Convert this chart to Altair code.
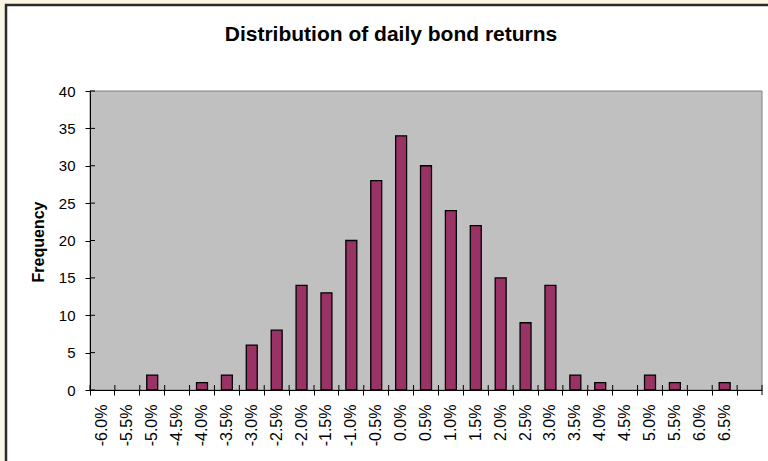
import altair as alt
import pandas as pd

categories = ["-6.0%", "-5.5%", "-5.0%", "-4.5%", "-4.0%", "-3.5%", "-3.0%", "-2.5%",
              "-2.0%", "-1.5%", "-1.0%", "-0.5%", "0.0%", "0.5%", "1.0%", "1.5%",
              "2.0%", "2.5%", "3.0%", "3.5%", "4.0%", "4.5%", "5.0%", "5.5%",
              "6.0%", "6.5%", " "]
frequency = [0, 0, 2, 0, 1, 2, 6, 8, 14, 13, 20, 28, 34, 30, 24, 22,
             15, 9, 14, 2, 1, 0, 2, 1, 0, 1, 0]
y_ticks = [0, 5, 10, 15, 20, 25, 30, 35, 40]

df = pd.DataFrame({"bin": categories, "freq": frequency})
yt = pd.DataFrame({"tick": y_ticks})
FONT = "Liberation Sans"
W, H = 672, 299

base = alt.Chart(df)
one = "datum.bin == '-6.0%'"

frame = base.mark_rect(fill="white", stroke="#2a2a2a", strokeWidth=2.5).encode(
    x=alt.value(-84), x2=alt.value(700), y=alt.value(-86), y2=alt.value(400)
).transform_filter(one)

plotbg = base.mark_rect(fill="#C0C0C0", stroke="#808080", strokeWidth=1).encode(
    x=alt.value(0), x2=alt.value(W), y=alt.value(0), y2=alt.value(H)
).transform_filter(one)

xscale = alt.Scale(paddingInner=0, paddingOuter=0)
yscale = alt.Scale(domain=[0, 40], nice=False)

xaxis = alt.Axis(title=None, labelAngle=270, labelAlign="right",
                 labelBaseline="middle", labelFont=FONT, labelFontSize=16,
                 labelColor="black", labelPadding=9, bandPosition=0,
                 tickColor="black", domainColor="black", tickSize=5,
                 labelOverlap=False, zindex=1)
yaxis = alt.Axis(title=None, values=y_ticks, labelOverlap=False,
                 grid=False, labelFont=FONT, labelFontSize=15,
                 labelColor="black", labelPadding=10, tickSize=5,
                 tickColor="black", domainColor="black", zindex=1)

bars = base.mark_bar(
    color="#993366", stroke="black", strokeWidth=1.3,
    width=alt.RelativeBandSize(0.44)
).encode(
    x=alt.X("bin:N", sort=categories, scale=xscale, axis=xaxis),
    y=alt.Y("freq:Q", scale=yscale, axis=yaxis),
    opacity=alt.condition("datum.freq > 0", alt.value(1), alt.value(0))
)

# inward halves of the crossing tick marks
xticks_in = base.mark_rule(color="black").encode(
    x=alt.X("bin:N", sort=categories, scale=xscale, bandPosition=0, axis=xaxis),
    y=alt.value(H - 5), y2=alt.value(H)
)
xtick_end = base.mark_rule(color="black").encode(
    x=alt.value(W), y=alt.value(H - 5), y2=alt.value(H + 5)
).transform_filter(one)
yticks_in = alt.Chart(yt).mark_rule(color="black").encode(
    y=alt.Y("tick:Q", scale=yscale, axis=yaxis), x=alt.value(0), x2=alt.value(5)
)

ytitle = base.mark_text(
    text="Frequency", font=FONT, fontSize=16, fontWeight="bold", color="black",
    angle=270, align="center", baseline="middle"
).encode(x=alt.value(-51), y=alt.value(151)).transform_filter(one)

title = base.mark_text(
    text="Distribution of daily bond returns", font=FONT, fontSize=21,
    fontWeight="bold", color="black", align="center", baseline="alphabetic"
).encode(x=alt.value(301), y=alt.value(-50)).transform_filter(one)

chart = alt.layer(frame, plotbg, bars, xticks_in, xtick_end, yticks_in,
                  ytitle, title).properties(
    width=W, height=H, background="#FBF5E4",
    padding={"left": 90, "top": 91, "right": 6, "bottom": 71},
    autosize=alt.AutoSizeParams(type="none")
).configure_view(stroke=None)

chart.save("out.html", embed_options={"renderer": "svg", "actions": False})
